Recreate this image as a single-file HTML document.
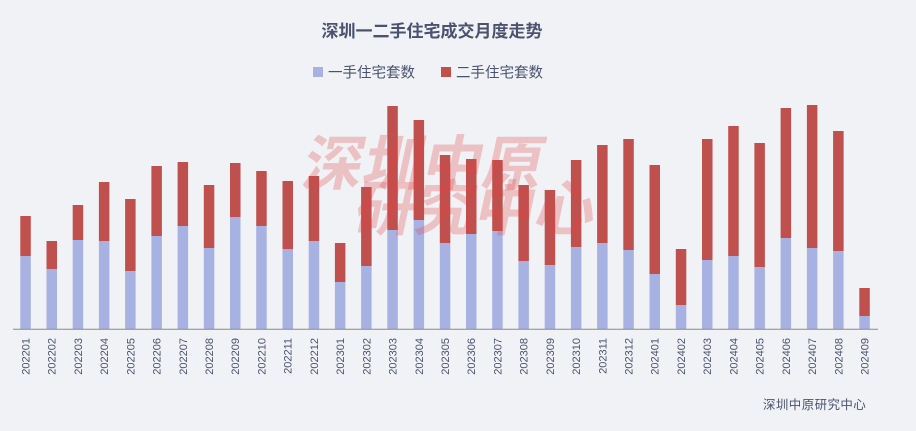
<!DOCTYPE html>
<html><head><meta charset="utf-8"><style>
html,body{margin:0;padding:0;background:#f0f2f5;}
svg{display:block;font-family:"Liberation Sans","Noto Sans CJK SC",sans-serif;}
</style></head><body>
<svg width="916" height="431" viewBox="0 0 916 431" xmlns="http://www.w3.org/2000/svg">
<rect width="916" height="431" fill="#f0f2f5"/>
<text x="432" y="37" text-anchor="middle" font-size="17" font-weight="bold" fill="#4a5270">深圳一二手住宅成交月度走势</text>
<rect x="313" y="67" width="10" height="10" fill="#a7b2e3"/>
<text x="328" y="77.5" font-size="14.5" fill="#4a5270">一手住宅套数</text>
<rect x="441" y="67" width="10" height="10" fill="#c0504d"/>
<text x="456" y="77.5" font-size="14.5" fill="#4a5270">二手住宅套数</text>
<g fill="#a7b2e3">
<rect x="20.3" y="256" width="10.5" height="73"/>
<rect x="46.5" y="269" width="10.5" height="60"/>
<rect x="72.7" y="240" width="10.5" height="89"/>
<rect x="98.9" y="241" width="10.5" height="88"/>
<rect x="125.1" y="271" width="10.5" height="58"/>
<rect x="151.4" y="236" width="10.5" height="93"/>
<rect x="177.6" y="226" width="10.5" height="103"/>
<rect x="203.8" y="248" width="10.5" height="81"/>
<rect x="230.0" y="217" width="10.5" height="112"/>
<rect x="256.2" y="226" width="10.5" height="103"/>
<rect x="282.5" y="249" width="10.5" height="80"/>
<rect x="308.7" y="241" width="10.5" height="88"/>
<rect x="334.9" y="282" width="10.5" height="47"/>
<rect x="361.1" y="266" width="10.5" height="63"/>
<rect x="387.3" y="230" width="10.5" height="99"/>
<rect x="413.6" y="220" width="10.5" height="109"/>
<rect x="439.8" y="243" width="10.5" height="86"/>
<rect x="466.0" y="234" width="10.5" height="95"/>
<rect x="492.2" y="231" width="10.5" height="98"/>
<rect x="518.4" y="261" width="10.5" height="68"/>
<rect x="544.7" y="265" width="10.5" height="64"/>
<rect x="570.9" y="247" width="10.5" height="82"/>
<rect x="597.1" y="243" width="10.5" height="86"/>
<rect x="623.3" y="250" width="10.5" height="79"/>
<rect x="649.5" y="274" width="10.5" height="55"/>
<rect x="675.8" y="305" width="10.5" height="24"/>
<rect x="702.0" y="260" width="10.5" height="69"/>
<rect x="728.2" y="256" width="10.5" height="73"/>
<rect x="754.4" y="267" width="10.5" height="62"/>
<rect x="780.6" y="238" width="10.5" height="91"/>
<rect x="806.9" y="248" width="10.5" height="81"/>
<rect x="833.1" y="251" width="10.5" height="78"/>
<rect x="859.3" y="316" width="10.5" height="13"/>
</g>
<g fill="#c0504d">
<rect x="20.3" y="216" width="10.5" height="40"/>
<rect x="46.5" y="241" width="10.5" height="28"/>
<rect x="72.7" y="205" width="10.5" height="35"/>
<rect x="98.9" y="182" width="10.5" height="59"/>
<rect x="125.1" y="199" width="10.5" height="72"/>
<rect x="151.4" y="166" width="10.5" height="70"/>
<rect x="177.6" y="162" width="10.5" height="64"/>
<rect x="203.8" y="185" width="10.5" height="63"/>
<rect x="230.0" y="163" width="10.5" height="54"/>
<rect x="256.2" y="171" width="10.5" height="55"/>
<rect x="282.5" y="181" width="10.5" height="68"/>
<rect x="308.7" y="176" width="10.5" height="65"/>
<rect x="334.9" y="243" width="10.5" height="39"/>
<rect x="361.1" y="187" width="10.5" height="79"/>
<rect x="387.3" y="106" width="10.5" height="124"/>
<rect x="413.6" y="120" width="10.5" height="100"/>
<rect x="439.8" y="155" width="10.5" height="88"/>
<rect x="466.0" y="159" width="10.5" height="75"/>
<rect x="492.2" y="160" width="10.5" height="71"/>
<rect x="518.4" y="185" width="10.5" height="76"/>
<rect x="544.7" y="190" width="10.5" height="75"/>
<rect x="570.9" y="160" width="10.5" height="87"/>
<rect x="597.1" y="145" width="10.5" height="98"/>
<rect x="623.3" y="139" width="10.5" height="111"/>
<rect x="649.5" y="165" width="10.5" height="109"/>
<rect x="675.8" y="249" width="10.5" height="56"/>
<rect x="702.0" y="139" width="10.5" height="121"/>
<rect x="728.2" y="126" width="10.5" height="130"/>
<rect x="754.4" y="143" width="10.5" height="124"/>
<rect x="780.6" y="108" width="10.5" height="130"/>
<rect x="806.9" y="105" width="10.5" height="143"/>
<rect x="833.1" y="131" width="10.5" height="120"/>
<rect x="859.3" y="288" width="10.5" height="28"/>
</g>
<g font-size="60" font-weight="bold" fill="rgba(225,70,70,0.28)">
<text x="0" y="0" transform="translate(300,185) skewX(-12)" textLength="240">深圳中原</text>
<text x="0" y="0" transform="translate(352,230) skewX(-12)" textLength="240">研究中心</text>
</g>
<line x1="13" y1="329.3" x2="878" y2="329.3" stroke="#8a8a8a" stroke-width="1"/>
<g font-size="11" fill="#4a5270" text-anchor="end">
<text transform="translate(29.5,338) rotate(-90)">202201</text>
<text transform="translate(55.7,338) rotate(-90)">202202</text>
<text transform="translate(81.9,338) rotate(-90)">202203</text>
<text transform="translate(108.1,338) rotate(-90)">202204</text>
<text transform="translate(134.3,338) rotate(-90)">202205</text>
<text transform="translate(160.6,338) rotate(-90)">202206</text>
<text transform="translate(186.8,338) rotate(-90)">202207</text>
<text transform="translate(213.0,338) rotate(-90)">202208</text>
<text transform="translate(239.2,338) rotate(-90)">202209</text>
<text transform="translate(265.4,338) rotate(-90)">202210</text>
<text transform="translate(291.7,338) rotate(-90)">202211</text>
<text transform="translate(317.9,338) rotate(-90)">202212</text>
<text transform="translate(344.1,338) rotate(-90)">202301</text>
<text transform="translate(370.3,338) rotate(-90)">202302</text>
<text transform="translate(396.5,338) rotate(-90)">202303</text>
<text transform="translate(422.8,338) rotate(-90)">202304</text>
<text transform="translate(449.0,338) rotate(-90)">202305</text>
<text transform="translate(475.2,338) rotate(-90)">202306</text>
<text transform="translate(501.4,338) rotate(-90)">202307</text>
<text transform="translate(527.6,338) rotate(-90)">202308</text>
<text transform="translate(553.9,338) rotate(-90)">202309</text>
<text transform="translate(580.1,338) rotate(-90)">202310</text>
<text transform="translate(606.3,338) rotate(-90)">202311</text>
<text transform="translate(632.5,338) rotate(-90)">202312</text>
<text transform="translate(658.7,338) rotate(-90)">202401</text>
<text transform="translate(685.0,338) rotate(-90)">202402</text>
<text transform="translate(711.2,338) rotate(-90)">202403</text>
<text transform="translate(737.4,338) rotate(-90)">202404</text>
<text transform="translate(763.6,338) rotate(-90)">202405</text>
<text transform="translate(789.8,338) rotate(-90)">202406</text>
<text transform="translate(816.1,338) rotate(-90)">202407</text>
<text transform="translate(842.3,338) rotate(-90)">202408</text>
<text transform="translate(868.5,338) rotate(-90)">202409</text>
</g>
<text x="763" y="409" font-size="12.5" fill="#4a5270" letter-spacing="0.4">深圳中原研究中心</text>
</svg>
</body></html>
